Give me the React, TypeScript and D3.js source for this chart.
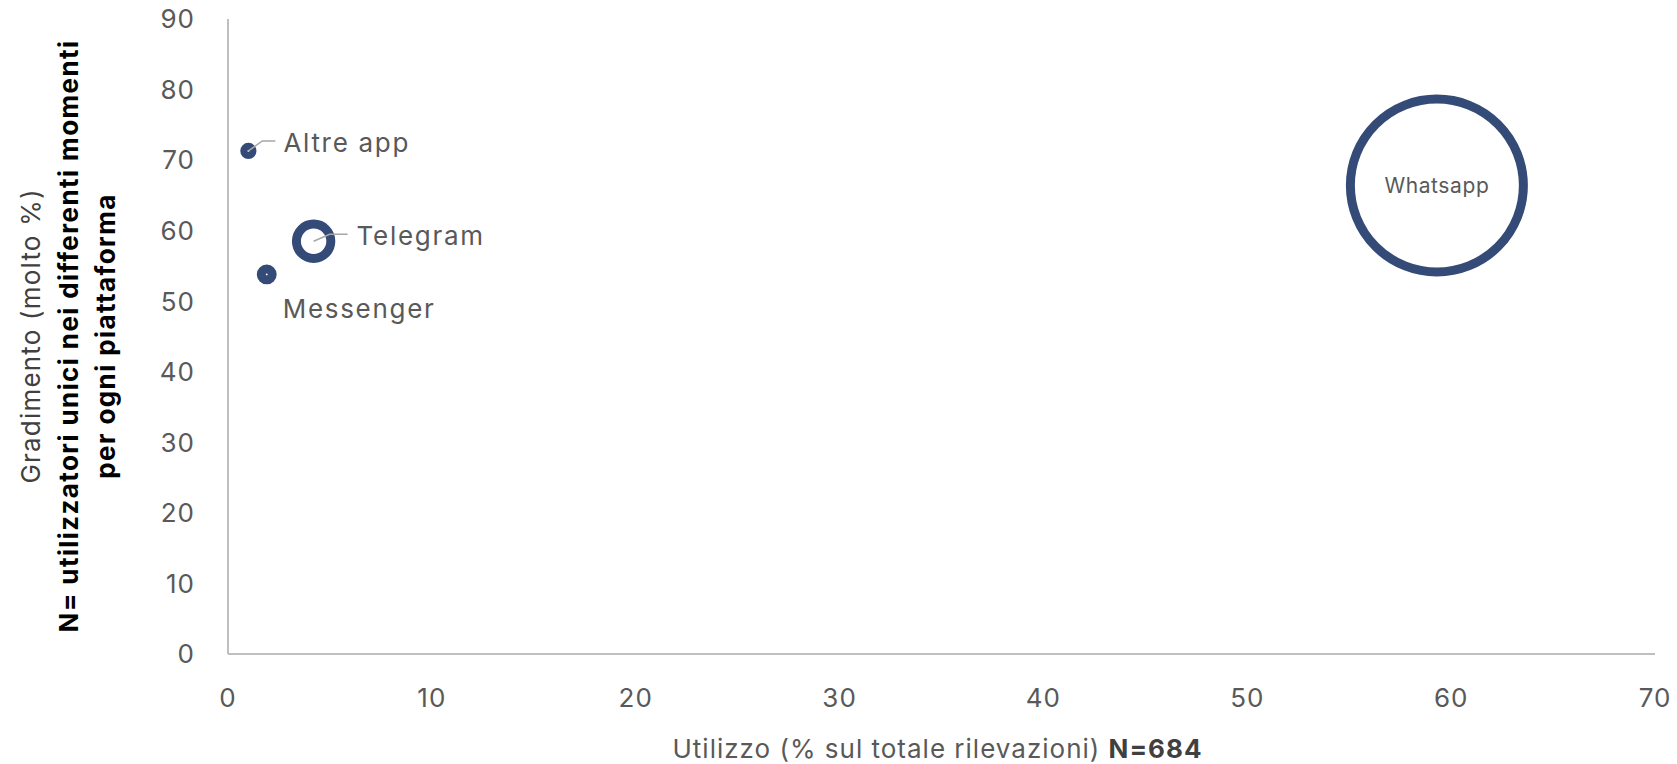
import React, { useEffect } from 'react';
import * as d3 from 'd3';

// Platforms plotted as bubbles: usage share (x), "molto" rating (y), bubble size
const platforms = ['Altre app', 'Messenger', 'Telegram', 'Whatsapp'];
const usage = [1.0, 1.9, 4.2, 59.3];
const rating = [71.3, 53.8, 58.5, 66.4];
const bubbleSize = [0.7, 1.6, 16, 405];

const xTicks = [0, 10, 20, 30, 40, 50, 60, 70];
const yTicks = [0, 10, 20, 30, 40, 50, 60, 70, 80, 90];

const xTitle = 'Utilizzo (% sul totale rilevazioni) ';
const xTitleBold = 'N=684';
const yTitleLines = [
  'Gradimento (molto %)',
  'N= utilizzatori unici nei differenti momenti',
  'per ogni piattaforma',
];

const W = 1677;
const H = 764;
const FONT = 'Inter, "Noto Sans", sans-serif';
const TEXT = '#595959';
const NAVY = '#344a77';
const AXIS = '#bfbfbf';

// label placement relative to the bubble centre
const labelLayout: Record<string, { dx: number; dy: number; anchor: string; size: number; ls: number; leader?: [number, number][] }> = {
  'Altre app': { dx: 35, dy: 1, anchor: 'start', size: 26, ls: 1.7, leader: [[14, -10], [27, -10]] },
  Messenger: { dx: 16, dy: 44, anchor: 'start', size: 26, ls: 1.7 },
  Telegram: { dx: 43, dy: 4, anchor: 'start', size: 26, ls: 1.7, leader: [[16, -7], [34, -7]] },
  Whatsapp: { dx: 0, dy: 7, anchor: 'middle', size: 21, ls: 0.6 },
};

export default function App() {
  useEffect(() => {
    document.body.style.margin = '0';
  }, []);

  const x = d3.scaleLinear().domain([0, 70]).range([228, 1655]);
  const y = d3.scaleLinear().domain([0, 90]).range([654, 19]);
  const r = d3.scaleSqrt().domain([0, d3.max(bubbleSize) as number]).range([0, 86.5]);

  const points = platforms.map((name, i) => ({
    name,
    cx: x(usage[i]),
    cy: y(rating[i]),
    r: r(bubbleSize[i]),
  }));

  const line = d3.line();

  return (
    <svg width={W} height={H} style={{ display: 'block', background: '#fff' }} fontFamily={FONT}>
      {/* axes */}
      <line x1={x(0)} x2={x(0)} y1={y(90)} y2={y(0)} stroke={AXIS} strokeWidth={2} />
      <line x1={x(0)} x2={x(70)} y1={y(0)} y2={y(0)} stroke={AXIS} strokeWidth={2} />

      {yTicks.map((t) => (
        <text key={'y' + t} x={195} y={y(t)} dy="0.36em" textAnchor="end" fontSize={26} letterSpacing={1} fill={TEXT}>
          {t}
        </text>
      ))}
      {xTicks.map((t) => (
        <text key={'x' + t} x={x(t)} y={707} textAnchor="middle" fontSize={26} letterSpacing={1} fill={TEXT}>
          {t}
        </text>
      ))}

      {/* axis titles */}
      <text x={(x(0) + x(70)) / 2 - 4} y={758} textAnchor="middle" fontSize={26} letterSpacing={1} fill={TEXT}>
        {xTitle}
        <tspan fontWeight={700} fill="#404040">{xTitleBold}</tspan>
      </text>
      {yTitleLines.map((t, i) => (
        <text
          key={t}
          transform={`translate(${[40, 78, 115][i]},${336}) rotate(-90)`}
          textAnchor="middle"
          fontSize={26}
          letterSpacing={i === 0 ? 1.2 : 1.4}
          fontWeight={i === 0 ? 400 : 700}
          fill={i === 0 ? '#404040' : '#000'}
        >
          {t}
        </text>
      ))}

      {/* bubbles */}
      {points.map((p) => (
        <circle key={p.name} cx={p.cx} cy={p.cy} r={p.r} fill="#fff" stroke={NAVY} strokeWidth={9} />
      ))}

      {/* leader lines and labels */}
      {points.map((p) => {
        const l = labelLayout[p.name];
        return (
          <g key={'l' + p.name}>
            {l.leader && (
              <path
                d={line([[p.cx, p.cy], ...l.leader.map(([a, b]) => [p.cx + a, p.cy + b] as [number, number])]) || ''}
                fill="none"
                stroke="#a6a6a6"
                strokeWidth={1.5}
              />
            )}
            <text
              x={p.cx + l.dx}
              y={p.cy + l.dy}
              textAnchor={l.anchor}
              fontSize={l.size}
              letterSpacing={l.ls}
              fill={TEXT}
            >
              {p.name}
            </text>
          </g>
        );
      })}
    </svg>
  );
}
